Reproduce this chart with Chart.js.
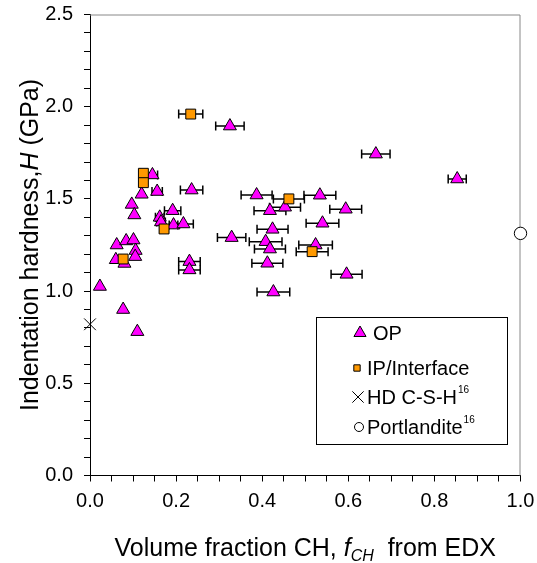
<!DOCTYPE html>
<html>
<head>
<meta charset="utf-8">
<script src="https://cdn.jsdelivr.net/npm/chart.js@4/dist/chart.umd.min.js"></script>
<style>
  body { margin: 0; background: #fff; }
  #wrap { width: 537px; height: 563px; position: relative; }
</style>
</head>
<body>
<div id="wrap"><canvas id="hardnessChart"></canvas></div>
<script>
// OP points: volume fraction CH, hardness, horizontal error
var opX = [0.023, 0.077, 0.110, 0.062, 0.084, 0.101, 0.106, 0.105, 0.060, 0.080,
           0.097, 0.103, 0.120, 0.145, 0.156, 0.162, 0.165, 0.192, 0.194, 0.217,
           0.236, 0.231, 0.231, 0.325, 0.329, 0.387, 0.418, 0.453, 0.534, 0.594,
           0.540, 0.424, 0.408, 0.418, 0.524, 0.412, 0.596, 0.426, 0.664, 0.853];
var opY = [1.025, 0.90, 0.78, 1.25, 1.272, 1.277, 1.22, 1.187, 1.17, 1.15,
           1.47, 1.413, 1.525, 1.63, 1.54, 1.40, 1.375, 1.436, 1.358, 1.364,
           1.548, 1.16, 1.115, 1.895, 1.29, 1.521, 1.436, 1.455, 1.52, 1.444,
           1.368, 1.335, 1.268, 1.228, 1.25, 1.151, 1.091, 0.995, 1.743, 1.608];
var opErr = [0, 0, 0, 0, 0, 0, 0, 0, 0, 0,
             0, 0, 0, 0.012, 0.012, 0.01, 0.01, 0.019, 0.01, 0.023,
             0.026, 0.025, 0.025, 0.033, 0.033, 0.036, 0.037, 0.036, 0.037, 0.037,
             0.038, 0.036, 0.038, 0.036, 0.039, 0.036, 0.036, 0.038, 0.033, 0.021];

// IP / Interface points
var ipX = [0.234, 0.124, 0.124, 0.172, 0.077, 0.462, 0.516];
var ipY = [1.96, 1.639, 1.588, 1.337, 1.174, 1.50, 1.214];
var ipErr = [0.028, 0.008, 0.008, 0.01, 0.005, 0.036, 0.037];

// reference values (ref. 16)
var hdX = [0.0];
var hdY = [0.82];
var chX = [1.0];
var chY = [1.313];

function pts(xs, ys) {
    return xs.map(function (x, i) { return { x: x, y: ys[i] }; });
}

var FONT = "'Liberation Sans', Arial, sans-serif";

var opStyle = { pointStyle: 'triangle', radius: 7.5, backgroundColor: '#ff00ff', borderColor: '#000', borderWidth: 1 };
var ipStyle = { pointStyle: 'rect', radius: 7, backgroundColor: '#ff9900', borderColor: '#000', borderWidth: 1 };
var hdStyle = { pointStyle: 'crossRot', radius: 8.3, backgroundColor: '#000', borderColor: '#000', borderWidth: 1 };
var chStyle = { pointStyle: 'circle', radius: 6.2, backgroundColor: '#fff', borderColor: '#000', borderWidth: 1 };

// horizontal error bars + grey frame on top/right
var errorBars = {
    id: 'errorBars',
    beforeDatasetsDraw: function (chart) {
        var ctx = chart.ctx, a = chart.chartArea;
        ctx.save();
        ctx.strokeStyle = '#888';
        ctx.lineWidth = 1;
        ctx.beginPath();
        ctx.moveTo(a.left, a.top + 0.5);
        ctx.lineTo(a.right - 0.5, a.top + 0.5);
        ctx.lineTo(a.right - 0.5, a.bottom);
        ctx.stroke();

        var xs = chart.scales.x;
        ctx.strokeStyle = '#000';
        ctx.lineWidth = 1.5;
        chart.data.datasets.forEach(function (ds, di) {
            if (!ds.errX) return;
            var meta = chart.getDatasetMeta(di);
            ds.data.forEach(function (p, i) {
                var e = ds.errX[i];
                if (!e) return;
                var y = meta.data[i].y;
                var x1 = xs.getPixelForValue(p.x - e);
                var x2 = xs.getPixelForValue(p.x + e);
                ctx.beginPath();
                ctx.moveTo(x1, y); ctx.lineTo(x2, y);
                ctx.moveTo(x1, y - 4.5); ctx.lineTo(x1, y + 4.5);
                ctx.moveTo(x2, y - 4.5); ctx.lineTo(x2, y + 4.5);
                ctx.stroke();
            });
        });
        ctx.restore();
    }
};

// axis titles and the legend box
var decorations = {
    id: 'decorations',
    afterDraw: function (chart) {
        var ctx = chart.ctx, a = chart.chartArea;
        ctx.save();
        ctx.fillStyle = '#000';
        ctx.textBaseline = 'alphabetic';

        // x title
        var parts = [
            { t: 'Volume fraction CH, ', f: '25px ' + FONT, dy: 0 },
            { t: 'f', f: 'italic 25px ' + FONT, dy: 0 },
            { t: 'CH', f: 'italic 16px ' + FONT, dy: 5 },
            { t: '  from EDX', f: '25px ' + FONT, dy: 0 }
        ];
        var w = 0;
        parts.forEach(function (p) { ctx.font = p.f; w += ctx.measureText(p.t).width; });
        var x = (a.left + a.right) / 2 - w / 2, y = 556;
        parts.forEach(function (p) {
            ctx.font = p.f;
            ctx.fillText(p.t, x, y + p.dy);
            x += ctx.measureText(p.t).width;
        });

        // y title
        var yparts = [
            { t: 'Indentation hardness,', f: '25px ' + FONT },
            { t: 'H', f: 'italic 25px ' + FONT },
            { t: ' (GPa)', f: '25px ' + FONT }
        ];
        w = 0;
        yparts.forEach(function (p) { ctx.font = p.f; w += ctx.measureText(p.t).width; });
        ctx.translate(38, (a.top + a.bottom) / 2);
        ctx.rotate(-Math.PI / 2);
        x = -w / 2;
        yparts.forEach(function (p) {
            ctx.font = p.f;
            ctx.fillText(p.t, x, 0);
            x += ctx.measureText(p.t).width;
        });
        ctx.setTransform(1, 0, 0, 1, 0, 0);

        // legend
        var lx = 316, ly = 317, lw = 191, lh = 127;
        ctx.fillStyle = '#fff';
        ctx.fillRect(lx, ly, lw, lh);
        ctx.strokeStyle = '#000';
        ctx.lineWidth = 1;
        ctx.strokeRect(lx + 0.5, ly + 0.5, lw, lh);

        var items = [
            { s: opStyle, r: 7, label: 'OP', sup: '', y: 333, mx: 360, tx: 373 },
            { s: ipStyle, r: 4.5, label: 'IP/Interface', sup: '', y: 368, mx: 357, tx: 367 },
            { s: hdStyle, r: 8, label: 'HD C-S-H', sup: '16', y: 397, mx: 358, tx: 367 },
            { s: chStyle, r: 4.5, label: 'Portlandite', sup: '16', y: 427, mx: 359, tx: 367 }
        ];
        items.forEach(function (it) {
            ctx.fillStyle = it.s.backgroundColor;
            ctx.strokeStyle = it.s.borderColor;
            ctx.lineWidth = it.s.borderWidth;
            Chart.helpers.drawPoint(ctx, { pointStyle: it.s.pointStyle, radius: it.r, borderWidth: 1 }, it.mx, it.y);
            ctx.fillStyle = '#000';
            ctx.font = '20px ' + FONT;
            ctx.textBaseline = 'middle';
            ctx.fillText(it.label, it.tx, it.y + 1);
            if (it.sup) {
                var lw2 = ctx.measureText(it.label).width;
                ctx.font = '10px ' + FONT;
                ctx.fillText(it.sup, it.tx + lw2 + 1, it.y - 7);
            }
        });
        ctx.restore();
    }
};

new Chart(document.getElementById('hardnessChart').getContext('2d'), {
    type: 'scatter',
    data: {
        datasets: [
            Object.assign({ label: 'IP/Interface', data: pts(ipX, ipY), errX: ipErr, clip: false }, ipStyle),
            Object.assign({ label: 'HD C-S-H', data: pts(hdX, hdY), clip: false }, hdStyle),
            Object.assign({ label: 'Portlandite', data: pts(chX, chY), clip: false }, chStyle),
            Object.assign({ label: 'OP', data: pts(opX, opY), errX: opErr, clip: false }, opStyle)
        ]
    },
    options: {
        responsive: true,
        maintainAspectRatio: false,
        animation: false,
        layout: { padding: { left: 0, top: 14.5, right: 16.5, bottom: 0 } },
        plugins: {
            legend: { display: false },
            tooltip: { enabled: false }
        },
        elements: { point: { hoverRadius: 7 } },
        scales: {
            x: {
                type: 'linear',
                min: 0, max: 1,
                afterFit: function (s) { s.height = 87.5; s.paddingLeft = 0; s.paddingRight = 0; },
                border: { display: true, color: '#000', width: 1 },
                grid: { display: true, drawOnChartArea: false, drawTicks: true, tickLength: 6, color: '#000' },
                ticks: {
                    stepSize: 0.05,
                    autoSkip: false,
                    maxRotation: 0,
                    padding: 8,
                    color: '#000',
                    font: { family: FONT, size: 20 },
                    callback: function (v) {
                        var k = v / 0.2;
                        return Math.abs(k - Math.round(k)) < 1e-6 ? v.toFixed(1) : '';
                    }
                }
            },
            y: {
                type: 'linear',
                min: 0, max: 2.5,
                afterFit: function (s) { s.width = 90; s.paddingTop = 0; s.paddingBottom = 0; },
                border: { display: true, color: '#000', width: 1 },
                grid: { display: true, drawOnChartArea: false, drawTicks: true, tickLength: 6, color: '#000' },
                ticks: {
                    stepSize: 0.1,
                    autoSkip: false,
                    padding: 11,
                    color: '#000',
                    font: { family: FONT, size: 20 },
                    callback: function (v) {
                        var k = v / 0.5;
                        return Math.abs(k - Math.round(k)) < 1e-6 ? v.toFixed(1) : '';
                    }
                }
            }
        }
    },
    plugins: [errorBars, decorations]
});
</script>
</body>
</html>
